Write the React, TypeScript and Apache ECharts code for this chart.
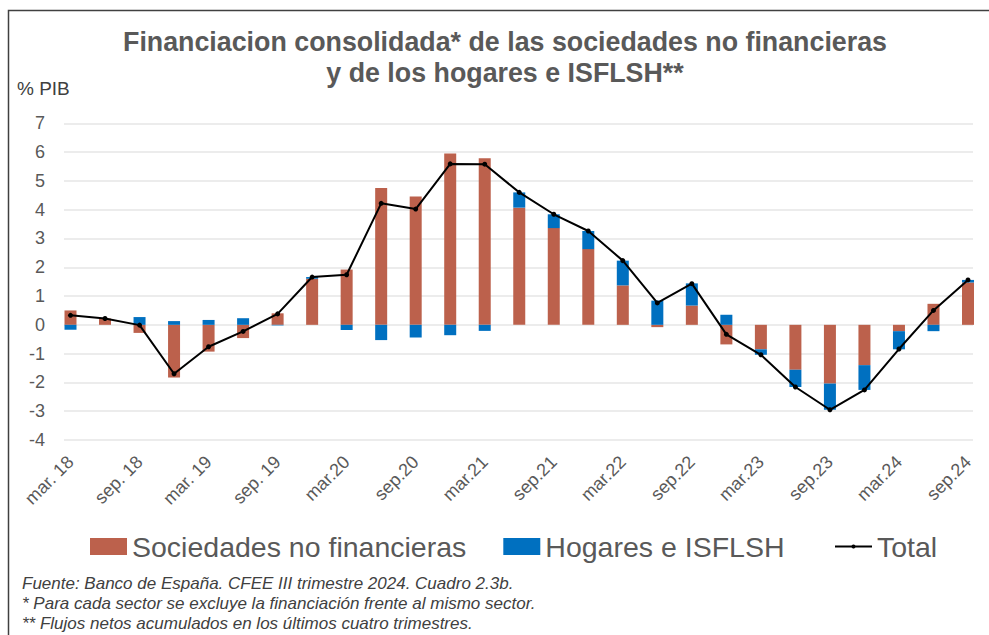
import React, { useEffect, useRef } from "react";
import * as echarts from "echarts";

const categories = [
  "mar. 18", "jun. 18", "sep. 18", "dic. 18",
  "mar. 19", "jun. 19", "sep. 19", "dic. 19",
  "mar.20", "jun.20", "sep.20", "dic.20",
  "mar.21", "jun.21", "sep.21", "dic.21",
  "mar.22", "jun.22", "sep.22", "dic.22",
  "mar.23", "jun.23", "sep.23", "dic.23",
  "mar.24", "jun.24", "sep.24",
];

const sociedades = [
  0.5, 0.22, -0.28, -1.83, -0.93, -0.46, 0.4, 1.6, 1.92, 4.75, 4.46, 5.95, 5.79, 4.07,
  3.36, 2.63, 1.37, -0.08, 0.67, -0.68, -0.85, -1.56, -2.04, -1.4, -0.22, 0.73, 1.47,
];
const hogares = [
  -0.17, 0.0, 0.27, 0.13, 0.17, 0.23, -0.02, 0.06, -0.18, -0.53, -0.44, -0.36, -0.21, 0.53,
  0.48, 0.63, 0.86, 0.84, 0.77, 0.35, -0.19, -0.6, -0.91, -0.86, -0.63, -0.22, 0.09,
];
const total = [
  0.33, 0.22, -0.01, -1.7, -0.76, -0.23, 0.38, 1.66, 1.74, 4.22, 4.02, 5.59, 5.58, 4.6,
  3.84, 3.26, 2.23, 0.76, 1.43, -0.33, -1.04, -2.16, -2.95, -2.26, -0.84, 0.5, 1.56,
];

const titleLines = [
  "Financiacion consolidada* de las sociedades no financieras",
  "y de los hogares e ISFLSH**",
];
const unitLabel = "% PIB";
const footnotes = [
  "Fuente: Banco de España. CFEE III trimestre 2024. Cuadro 2.3b.",
  "* Para cada sector se excluye la financiación frente al mismo sector.",
  "** Flujos netos acumulados en los últimos cuatro trimestres.",
];
const seriesNames = ["Sociedades no financieras", "Hogares e ISFLSH", "Total"];

const RED = "#BC614C";
const BLUE = "#0070C0";
const GRAY = "#595959";
const FONT = "Liberation Sans, Arial, sans-serif";

export default function App() {
  const ref = useRef<HTMLDivElement>(null);
  useEffect(() => {
    if (!ref.current) return;
    const chart = echarts.init(ref.current, null, { renderer: "svg" });
    const top = 123.3;
    const bottom = 635 - 440;
    chart.setOption({
      animation: false,
      backgroundColor: "#ffffff",
      textStyle: { fontFamily: FONT },
      grid: [
        { left: 70.5, right: 21, top, bottom },
        { left: 64, right: 16, top, bottom },
      ],
      xAxis: [
        {
          type: "category",
          gridIndex: 0,
          data: categories,
          boundaryGap: false,
          axisLine: { show: false, onZero: false },
          axisTick: { show: false },
          axisLabel: {
            interval: 1,
            rotate: 45,
            margin: 19,
            fontSize: 18,
            color: GRAY,
            fontFamily: FONT,
          },
          splitLine: { show: false },
        },
        {
          type: "value",
          gridIndex: 1,
          min: 0,
          max: 1,
          show: false,
        },
      ],
      yAxis: [
        {
          type: "value",
          gridIndex: 0,
          min: -4,
          max: 7,
          interval: 1,
          axisLabel: { show: false },
          axisLine: { show: false },
          axisTick: { show: false },
          splitLine: { show: false },
        },
        {
          type: "value",
          gridIndex: 1,
          min: -4,
          max: 7,
          interval: 1,
          axisLabel: { fontSize: 18, color: GRAY, margin: 19, fontFamily: FONT },
          axisLine: { show: false },
          axisTick: { show: false },
          splitLine: { show: true, lineStyle: { color: "#E6E6E6", width: 1.5 } },
        },
      ],
      legend: [
        {
          data: [
            { name: seriesNames[0], icon: "rect" },
            { name: seriesNames[1], icon: "rect" },
          ],
          left: 85,
          top: 527,
          itemWidth: 37,
          itemHeight: 17,
          itemGap: 37,
          textStyle: { fontSize: 28.5, color: GRAY, fontFamily: FONT },
        },
        {
          data: [seriesNames[2]],
          left: 829,
          top: 527,
          itemWidth: 37,
          itemHeight: 5,
          textStyle: { fontSize: 28.5, color: GRAY, fontFamily: FONT },
        },
      ],
      series: [
        {
          name: seriesNames[0],
          type: "bar",
          stack: "s",
          xAxisIndex: 0,
          yAxisIndex: 0,
          barWidth: 12,
          data: sociedades,
          itemStyle: { color: RED },
        },
        {
          name: seriesNames[1],
          type: "bar",
          stack: "s",
          xAxisIndex: 0,
          yAxisIndex: 0,
          barWidth: 12,
          data: hogares,
          itemStyle: { color: BLUE },
        },
        {
          name: seriesNames[2],
          type: "line",
          xAxisIndex: 0,
          yAxisIndex: 0,
          data: total,
          symbol: "circle",
          symbolSize: 5,
          lineStyle: { color: "#000000", width: 2 },
          itemStyle: { color: "#000000" },
          z: 5,
        },
      ],
      graphic: [
        {
          type: "rect",
          shape: { x: 8.5, y: 10.5, width: 1200, height: 800 },
          style: { fill: "none", stroke: "#404040", lineWidth: 1.5 },
          silent: true,
        },
        {
          type: "text",
          x: 505,
          y: 42,
          style: {
            text: titleLines[0],
            fontSize: 26.8,
            fontWeight: "bold",
            fill: GRAY,
            fontFamily: FONT,
            align: "center",
            verticalAlign: "middle",
          },
        },
        {
          type: "text",
          x: 505,
          y: 73,
          style: {
            text: titleLines[1],
            fontSize: 26.8,
            fontWeight: "bold",
            fill: GRAY,
            fontFamily: FONT,
            align: "center",
            verticalAlign: "middle",
          },
        },
        {
          type: "text",
          x: 17,
          y: 88,
          style: {
            text: unitLabel,
            fontSize: 19,
            fill: "#404040",
            fontFamily: FONT,
            align: "left",
            verticalAlign: "middle",
          },
        },
        ...footnotes.map((t, i) => ({
          type: "text",
          x: 22,
          y: 583 + i * 20,
          style: {
            text: t,
            fontSize: 17,
            fontStyle: "italic",
            fill: "#404040",
            fontFamily: FONT,
            align: "left",
            verticalAlign: "middle",
          },
        })),
      ],
    });
    return () => chart.dispose();
  }, []);
  return (
    <div
      ref={ref}
      style={{ position: "fixed", left: 0, top: 0, width: 989, height: 635 }}
    />
  );
}
